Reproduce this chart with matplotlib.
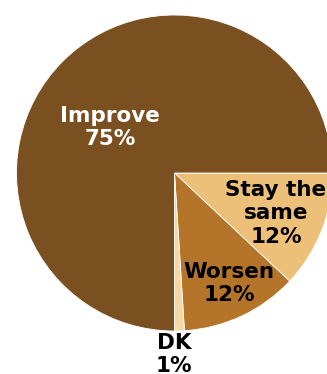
import numpy as np
import matplotlib.pyplot as plt

# survey answers, drawn clockwise from 3 o'clock
labels = ["Stay the\nsame", "Worsen", "DK", "Improve"]
values = [12, 12, 1, 75]
colors = ["#EDC07A", "#B4752A", "#F5D7A6", "#7A5020"]
text_colors = ["black", "black", "black", "white"]
# label distance (fraction of radius) and angle nudge in degrees
label_r = [0.69, 0.78, 1.15, 0.50]
label_nudge = [0, 1, -2, 10]

W, H = 327, 374
fig = plt.figure(figsize=(W / 100, H / 100), dpi=100)
ax = fig.add_axes([0, 0, 1, 1])

cx, cy, R = 174.5, H - 173, 158
wedges, _ = ax.pie(values, colors=colors, startangle=0, counterclock=False,
                   center=(cx, cy), radius=R,
                   wedgeprops=dict(edgecolor="white", linewidth=0.6))

for w, name, v, tc, lr, nd in zip(wedges, labels, values, text_colors, label_r, label_nudge):
    mid = np.deg2rad((w.theta1 + w.theta2) / 2 + nd)
    x = cx + lr * R * np.cos(mid)
    y = cy + lr * R * np.sin(mid)
    ax.text(x, y, f"{name}\n{v}%", ha="center", va="center", color=tc,
            fontsize=15.5, fontweight="bold", family="DejaVu Sans",
            linespacing=1.22)

ax.set_xlim(0, W)
ax.set_ylim(0, H)
ax.set_aspect("equal")
ax.axis("off")

fig.savefig("out.png", dpi=100)
